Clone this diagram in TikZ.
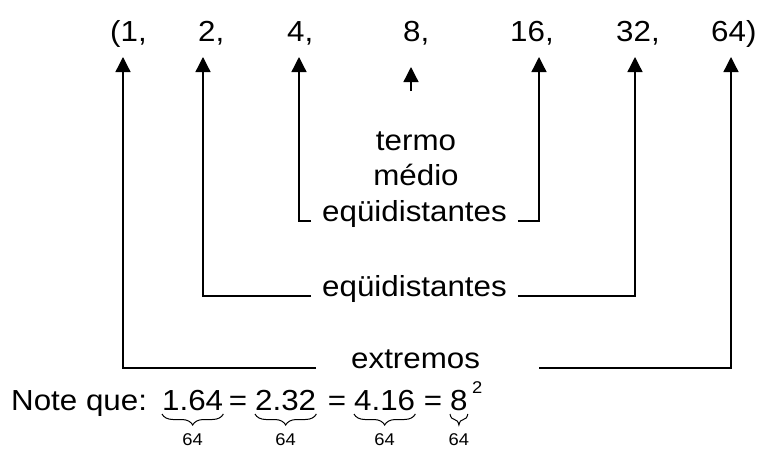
\documentclass[tikz,border=0pt]{standalone}
\usepackage{fontspec}
\setmainfont{Liberation Sans}[FakeStretch=1.08]
\usetikzlibrary{arrows.meta, decorations.pathreplacing}

\begin{document}
\begin{tikzpicture}[x=1pt, y=-1pt,
    font=\fontsize{29}{35}\selectfont,
    num/.style={anchor=base west, inner sep=0pt},
    small/.style={inner sep=0pt, font=\fontsize{17}{17}\selectfont},
    lbl/.style={anchor=base west, inner ysep=0pt, inner xsep=11pt},
    arr/.style={-{Triangle[length=15pt, width=15pt]}, line width=1.3pt},
    brc/.style={decorate, decoration={brace, mirror, amplitude=11pt}, line width=1pt},
  ]
  \useasboundingbox (0,0) rectangle (761,448);

  % the sequence
  \node[num] (n1)  at (110,41) {(1,};
  \node[num] (n2)  at (198,41) {2,};
  \node[num] (n4)  at (287,41) {4,};
  \node[num] (n8)  at (403,41) {8,};
  \node[num] (n16) at (510,41) {16,};
  \node[num] (n32) at (616,41) {32,};
  \node[num] (n64) at (711,41) {64)};

  % arrow tips under the terms
  \coordinate (t1)  at (123,57);
  \coordinate (t2)  at (203,57);
  \coordinate (t4)  at (299,57);
  \coordinate (t8)  at (411,67);
  \coordinate (m8)  at (411,91);
  \coordinate (t16) at (539,57);
  \coordinate (t32) at (635,57);
  \coordinate (t64) at (731,57);

  % labels
  \node[num, anchor=base] (termo) at (416,150) {termo};
  \node[num, anchor=base] (medio) at (416,185) {médio};
  \node[lbl] (e4)  at (311,221) {eqüidistantes};
  \node[lbl] (e2)  at (311,296) {eqüidistantes};
  \node[lbl, inner xsep=35pt] (ext) at (316,368) {extremos\hspace*{24pt}};

  \draw[arr] (m8) -- (t8);
  \draw[arr] (e4.base west) -| (t4);
  \draw[arr] (e4.base east) -| (t16);
  \draw[arr] (e2.base west) -| (t2);
  \draw[arr] (e2.base east) -| (t32);
  \draw[arr] (ext.base west) -| (t1);
  \draw[arr] (ext.base east) -| (t64);

  % note
  \node[num] (note) at (11,410) {Note que:};
  \node[num] (p1) at (162,410) {1.64};
  \node[num, anchor=base] (q1) at (238,410) {=};
  \node[num] (p2) at (255,410) {2.32};
  \node[num, anchor=base] (q2) at (337,410) {=};
  \node[num] (p3) at (354,410) {4.16};
  \node[num, anchor=base] (q3) at (433,410) {=};
  \node[num] (p4) at (450,410) {8};
  \node[small, anchor=base west] (sq) at (472,393) {2};

  \draw[brc] ([yshift=-4pt]p1.base west) -- node[small, below=19pt] (l1) {64} ([yshift=-4pt]p1.base east);
  \draw[brc] ([yshift=-4pt]p2.base west) -- node[small, below=19pt] (l2) {64} ([yshift=-4pt]p2.base east);
  \draw[brc] ([yshift=-4pt]p3.base west) -- node[small, below=19pt] (l3) {64} ([yshift=-4pt]p3.base east);
  \draw[brc] ([yshift=-4pt]p4.base west) -- node[small, below=19pt] (l4) {64} ([yshift=-4pt]p4.base east);
\end{tikzpicture}
\end{document}
